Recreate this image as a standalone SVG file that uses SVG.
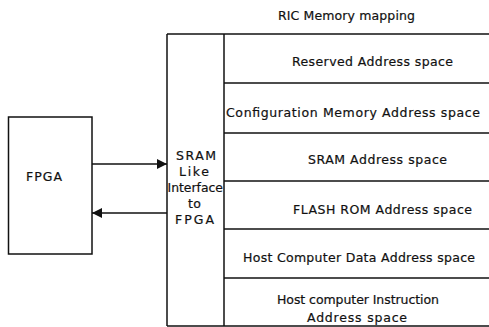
<svg xmlns="http://www.w3.org/2000/svg" width="489" height="327" viewBox="0 0 489 327">
  <style>
    .box { fill: none; stroke: #111; stroke-width: 1.5; }
    .rule { stroke: #111; stroke-width: 1.5; fill: none; }
    .lbl { font-family: "DejaVu Sans", "Liberation Sans", sans-serif; font-size: 12.5px; fill: #111; stroke: #111; stroke-width: 0.2; }
    .conn { stroke: #111; stroke-width: 1.3; fill: none; }
  </style>
  <defs>
    <marker id="arrow" markerUnits="userSpaceOnUse" markerWidth="11" markerHeight="11" refX="10" refY="5" orient="auto">
      <path d="M0,0 L10,5 L0,10 Z" fill="#111"/>
    </marker>
  </defs>

  <rect width="489" height="327" fill="#fff"/>

  <!-- title -->
  <text class="lbl" x="278" y="20" textLength="137" lengthAdjust="spacing">RIC Memory mapping</text>

  <!-- FPGA block -->
  <g id="fpga">
    <rect class="box" x="8.5" y="117" width="83.5" height="137"/>
    <text class="lbl" x="26" y="181" textLength="36" lengthAdjust="spacing">FPGA</text>
  </g>

  <!-- SRAM-like interface column -->
  <g id="sram-interface">
    <path class="rule" d="M167,34 V326"/>
    <path class="rule" d="M224,34 V326"/>
    <text class="lbl" x="176" y="160" textLength="40" lengthAdjust="spacing">SRAM</text>
    <text class="lbl" x="179" y="176" textLength="30" lengthAdjust="spacing">Like</text>
    <text class="lbl" x="167.5" y="192" textLength="55.5" lengthAdjust="spacingAndGlyphs">Interface</text>
    <text class="lbl" x="188" y="208" textLength="13" lengthAdjust="spacing">to</text>
    <text class="lbl" x="175" y="224" textLength="39" lengthAdjust="spacing">FPGA</text>
  </g>

  <!-- memory map outline -->
  <g id="memory-map">
    <path class="rule" d="M167,34 H489"/>
    <path class="rule" d="M167,326 H489"/>
  </g>

  <g id="reserved">
    <text class="lbl" x="292" y="66" textLength="161" lengthAdjust="spacing">Reserved Address space</text>
    <path class="rule" d="M224,83 H489"/>
  </g>
  <g id="config-memory">
    <text class="lbl" x="226" y="117" textLength="254" lengthAdjust="spacing">Configuration Memory Address space</text>
    <path class="rule" d="M224,133 H489"/>
  </g>
  <g id="sram-space">
    <text class="lbl" x="308" y="164" textLength="139" lengthAdjust="spacing">SRAM Address space</text>
    <path class="rule" d="M224,181 H489"/>
  </g>
  <g id="flash-rom">
    <text class="lbl" x="293" y="214" textLength="179" lengthAdjust="spacing">FLASH ROM Address space</text>
    <path class="rule" d="M224,229 H489"/>
  </g>
  <g id="host-data">
    <text class="lbl" x="243" y="262" textLength="232" lengthAdjust="spacing">Host Computer Data Address space</text>
    <path class="rule" d="M224,278 H489"/>
  </g>
  <g id="host-instruction">
    <text class="lbl" x="277" y="304" textLength="162" lengthAdjust="spacing">Host computer Instruction</text>
    <text class="lbl" x="307" y="322" textLength="100" lengthAdjust="spacing">Address space</text>
  </g>

  <!-- connectors between FPGA and interface -->
  <g id="connectors">
    <path class="conn" d="M92,164 H167" marker-end="url(#arrow)"/>
    <path class="conn" d="M167,213 H92" marker-end="url(#arrow)"/>
  </g>
</svg>
